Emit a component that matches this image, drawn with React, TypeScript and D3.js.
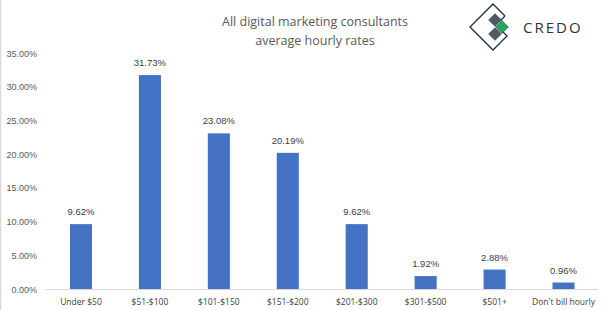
import React from "react";
import * as d3 from "d3";

const categories = ["Under $50", "$51-$100", "$101-$150", "$151-$200", "$201-$300", "$301-$500", "$501+", "Don't bill hourly"];
const values = [9.62, 31.73, 23.08, 20.19, 9.62, 1.92, 2.88, 0.96];
const yTicks = [0, 5, 10, 15, 20, 25, 30, 35];
const titleLines = ["All digital marketing consultants", "average hourly rates"];

const W = 607;
const H = 310;

export default function App() {
  const x = d3.scaleBand<string>().domain(categories).range([46.5, 598]).paddingInner(0.68).paddingOuter(0.34);
  const y = d3.scaleLinear().domain([0, 35]).range([289, 53]);
  const bw = x.bandwidth();
  const font = "'Liberation Sans', Arial, sans-serif";
  const cal = "'Open Sans', 'Liberation Sans', sans-serif";

  // logo geometry
  const lc = { x: 493, y: 27 };
  const r = 23;
  const sq = (cx: number, cy: number, h: number) =>
    `M${cx},${cy - h}L${cx + h},${cy}L${cx},${cy + h}L${cx - h},${cy}Z`;

  return (
    <svg width={W} height={H} style={{ position: "absolute", left: 0, top: 0, background: "#fff" }}>
      <rect x={0} y={0} width={W} height={H} fill="#fff" />
      <line x1={0.5} y1={0} x2={0.5} y2={H} stroke="#d9d9d9" strokeWidth={1.5} />

      {titleLines.map((t, i) => (
        <text key={i} x={315} y={26 + i * 19} textAnchor="middle" fontFamily={cal} fontSize={12.5} fill="#595959">
          {t}
        </text>
      ))}

      {/* logo */}
      <g>
        <path
          d={`M${lc.x + 12},${lc.y - 11}L${lc.x},${lc.y - r}L${lc.x - r},${lc.y}L${lc.x},${lc.y + r}L${lc.x + 14},${lc.y + 9}L${lc.x + 9},${lc.y + 4}`}
          fill="none"
          stroke="#1f2b30"
          strokeWidth={1.3}
        />
        <path d={`M${lc.x + 12},${lc.y - 11}L${lc.x + 7},${lc.y - 6}`} fill="none" stroke="#1f2b30" strokeWidth={1.3} />
        <path d={sq(495, 20, 6.8)} fill="#4e5b62" />
        <path d={sq(495, 34, 6.8)} fill="#4e5b62" />
        <path d={sq(502, 27, 6.3)} fill="#22a85a" stroke="#1f2b30" strokeWidth={0.6} />
        <text x={523} y={33} fontFamily="'Open Sans', sans-serif" fontSize={15} letterSpacing={2} fill="#2d3436">
          CREDO
        </text>
      </g>

      {yTicks.map((t) => (
        <text key={t} x={37} y={y(t) + 3.5} textAnchor="end" fontFamily={font} fontSize={9} fill="#595959">
          {t.toFixed(2)}%
        </text>
      ))}

      <line x1={45} x2={598} y1={289.5} y2={289.5} stroke="#d9d9d9" strokeWidth={1} />

      {categories.map((c, i) => (
        <g key={c}>
          <rect x={x(c)} y={y(values[i])} width={bw} height={y(0) - y(values[i])} fill="#4472c4" />
          <text x={(x(c) as number) + bw / 2} y={y(values[i]) - 9} textAnchor="middle" fontFamily={font} fontSize={9.5} fill="#404040">
            {values[i].toFixed(2)}%
          </text>
          <text x={(x(c) as number) + bw / 2} y={305} textAnchor="middle" fontFamily={cal} fontSize={8.5} fill="#404040">
            {c}
          </text>
        </g>
      ))}
    </svg>
  );
}
